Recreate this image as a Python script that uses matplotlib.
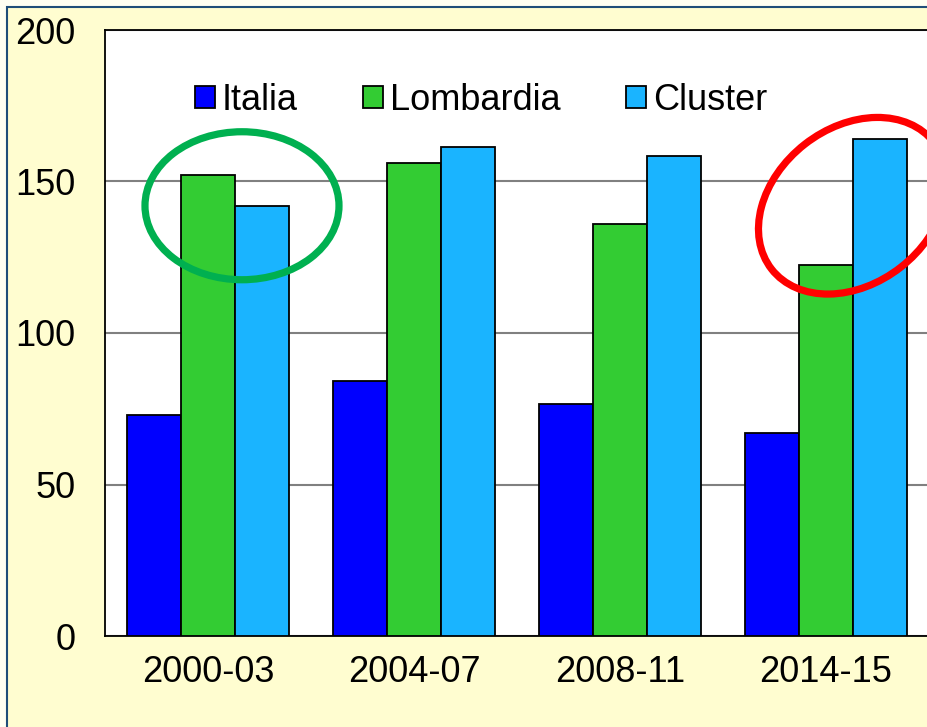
import numpy as np
import matplotlib
matplotlib.use("Agg")
from matplotlib import pyplot as plt
from matplotlib.patches import Ellipse, Rectangle
from matplotlib.transforms import ScaledTranslation

plt.rcParams['font.family'] = ['Liberation Sans', 'DejaVu Sans']

periods = ['2000-03', '2004-07', '2008-11', '2014-15']
italia = [73, 84, 76.5, 67]
lombardia = [152, 156, 136, 122.5]
cluster = [142, 161.5, 158.5, 164]
series_names = ['Italia', 'Lombardia', 'Cluster']
series_colors = ['#0000FF', '#33CC33', '#1AB4FF']

fig = plt.figure(figsize=(9.28, 7.27), dpi=100)
fig.patch.set_facecolor('#FFFFF2')
# pale yellow panel with a dark blue frame, as in the slide
fig.patches.append(Rectangle((7 / 928, -0.05), 1.1, 1 - 7 / 727 + 0.05, transform=fig.transFigure,
                             facecolor='#FFFDD0', edgecolor='#1F4E79', linewidth=1.5, zorder=-5))

ax = fig.add_axes([105 / 928, 1 - 636 / 727, 824 / 928, 606 / 727])
ax.set_facecolor('white')

x = np.arange(len(periods))
width = 0.262
for i, (vals, name, col) in enumerate(zip([italia, lombardia, cluster], series_names, series_colors)):
    ax.bar(x + (i - 1) * width, vals, width, color=col, edgecolor='black', linewidth=1.3,
           label=name, zorder=3)

ax.set_xlim(-0.5, 3.5)
ax.set_ylim(0, 200)
ax.set_yticks([0, 50, 100, 150, 200])
ax.set_xticks(x)
ax.set_xticklabels(periods)
ax.tick_params(axis='both', length=0, labelsize=26)
ax.tick_params(axis='x', pad=14)
ax.tick_params(axis='y', pad=21)
ax.yaxis.grid(True, color='#808080', linewidth=1.5, zorder=1)
ax.set_axisbelow(True)
for s in ax.spines.values():
    s.set_color('black')
    s.set_linewidth(1.3)

leg = ax.legend(loc='center left', bbox_to_anchor=(90 / 824, (636 - 100) / 606), ncol=3,
                frameon=False, fontsize=26, handlelength=0.55, handleheight=0.55,
                handletextpad=0.2, columnspacing=1.8, borderpad=0, borderaxespad=0)

# highlight circles
green = Ellipse((0, 0), 1.94, 1.48, fill=False, edgecolor='#00B050', linewidth=5.2,
                transform=fig.dpi_scale_trans + ScaledTranslation(0.165, 142, ax.transData),
                clip_on=False, zorder=5)
red = Ellipse((0, 0), 2.06, 1.56, angle=38, fill=False, edgecolor='#FF0000', linewidth=5.2,
              transform=fig.dpi_scale_trans + ScaledTranslation(3.13, 142, ax.transData),
              clip_on=False, zorder=5)
ax.add_patch(green)
ax.add_patch(red)

fig.savefig('out.png', dpi=100, facecolor=fig.get_facecolor())
